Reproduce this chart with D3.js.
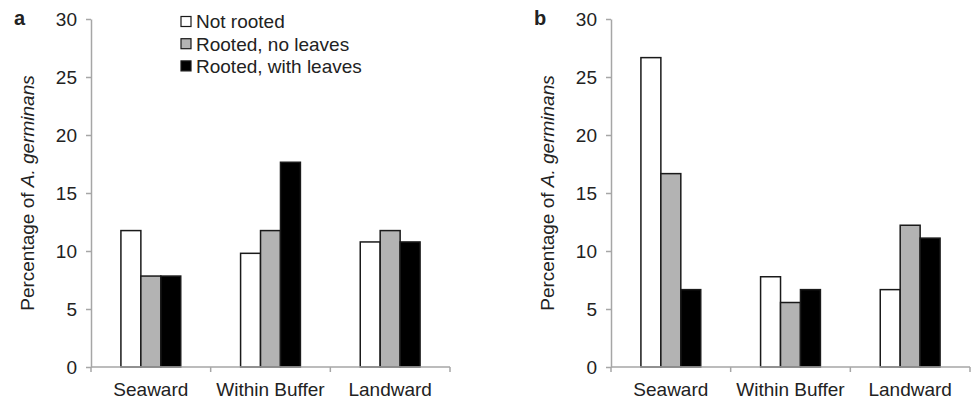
<!DOCTYPE html>
<html>
<head>
<meta charset="utf-8">
<script src="https://cdn.jsdelivr.net/npm/d3@7"></script>
<style>
  body { margin: 0; background: #fff; }
  text { font-family: "Liberation Sans", Arial, sans-serif; fill: #222; }
</style>
</head>
<body>
<div id="chart"></div>
<script>
// categories et séries
const sites = ["Seaward", "Within Buffer", "Landward"];
const series = ["Not rooted", "Rooted, no leaves", "Rooted, with leaves"];
const yTicks = [0, 5, 10, 15, 20, 25, 30];

// valeurs (%) par série, dans l'ordre des sites
const panelA_notRooted = [11.76, 9.80, 10.78];
const panelA_rootedNoLeaves = [7.84, 11.76, 11.76];
const panelA_rootedLeaves = [7.84, 17.65, 10.78];

const panelB_notRooted = [26.67, 7.78, 6.67];
const panelB_rootedNoLeaves = [16.67, 5.56, 12.22];
const panelB_rootedLeaves = [6.67, 6.67, 11.11];

const fills = ["#ffffff", "#b3b3b3", "#000000"];
const axisColor = "#a6a6a6";
const fontSize = "19px";

const svg = d3.select("#chart").append("svg")
    .attr("width", 972)
    .attr("height", 400);

const margin = { top: 19, left: 91 },
    width = 359,
    height = 348;

function drawPanel(offsetX, letter, values, showLegend) {
    const g = svg.append("g")
        .attr("transform", `translate(${offsetX + margin.left}, ${margin.top})`);

    const x0 = d3.scaleBand().domain(sites).range([0, width]).padding(0);
    const x1 = d3.scaleBand().domain(series)
        .range([x0.bandwidth() / 4, x0.bandwidth() * 3 / 4]).padding(0);
    const y = d3.scaleLinear().domain([0, 30]).range([height, 0]);

    // axe y
    const yAxis = g.append("g")
        .call(d3.axisLeft(y).tickValues(yTicks).tickSize(5).tickSizeOuter(0).tickPadding(9));
    yAxis.select(".domain").attr("stroke", axisColor).attr("stroke-width", 1.5);
    yAxis.selectAll(".tick line").attr("stroke", axisColor).attr("stroke-width", 1.5);
    yAxis.selectAll(".tick text")
        .style("font-size", fontSize)
        .attr("fill", "#222");

    // barres
    const rows = sites.map((s, i) => ({ site: s, vals: series.map((k, j) => ({ key: k, idx: j, v: values[j][i] })) }));
    g.selectAll(".group")
        .data(rows)
        .enter().append("g")
        .attr("class", "group")
        .attr("transform", d => `translate(${x0(d.site)}, 0)`)
        .selectAll("rect")
        .data(d => d.vals)
        .enter().append("rect")
        .attr("x", d => x1(d.key))
        .attr("y", d => y(d.v))
        .attr("width", x1.bandwidth())
        .attr("height", d => height - y(d.v))
        .attr("fill", d => fills[d.idx])
        .attr("stroke", "#1a1a1a")
        .attr("stroke-width", 1.5);

    // axe x : ligne + ticks aux limites des catégories
    const xAxis = g.append("g").attr("transform", `translate(0, ${height})`);
    xAxis.append("line")
        .attr("x1", 0).attr("x2", width)
        .attr("stroke", axisColor).attr("stroke-width", 1.5);
    const bounds = sites.map(s => x0(s)).concat([x0.range()[1]]);
    xAxis.selectAll(".bound")
        .data(bounds)
        .enter().append("line")
        .attr("class", "bound")
        .attr("x1", d => d).attr("x2", d => d)
        .attr("y1", 0).attr("y2", 5)
        .attr("stroke", axisColor).attr("stroke-width", 1.5);
    xAxis.selectAll(".site")
        .data(sites)
        .enter().append("text")
        .attr("class", "site")
        .attr("x", d => x0(d) + x0.bandwidth() / 2)
        .attr("y", 29)
        .attr("text-anchor", "middle")
        .style("font-size", fontSize)
        .text(d => d);

    // titre de l'axe y
    const title = g.append("text")
        .attr("transform", `translate(${-57}, ${height / 2}) rotate(-90)`)
        .attr("text-anchor", "middle")
        .style("font-size", fontSize);
    title.append("tspan").text("Percentage of ");
    title.append("tspan").style("font-style", "italic").text("A. germinans");

    // lettre du panneau
    svg.append("text")
        .attr("x", offsetX + 14)
        .attr("y", 25)
        .style("font-size", "20px")
        .style("font-weight", "bold")
        .attr("fill", "#111")
        .text(letter);

    if (showLegend) {
        const leg = svg.append("g").attr("transform", `translate(181, 0)`);
        const item = leg.selectAll(".leg")
            .data(series)
            .enter().append("g")
            .attr("class", "leg")
            .attr("transform", (d, i) => `translate(0, ${21.5 + i * 22.2})`);
        item.append("rect")
            .attr("x", 0).attr("y", -5)
            .attr("width", 10).attr("height", 10)
            .attr("fill", (d, i) => fills[i])
            .attr("stroke", "#1a1a1a")
            .attr("stroke-width", 1.2);
        item.append("text")
            .attr("x", 15)
            .attr("y", 6.8)
            .style("font-size", fontSize)
            .text(d => d);
    }
}

drawPanel(0, "a", [panelA_notRooted, panelA_rootedNoLeaves, panelA_rootedLeaves], true);
drawPanel(520, "b", [panelB_notRooted, panelB_rootedNoLeaves, panelB_rootedLeaves], false);
</script>
</body>
</html>
